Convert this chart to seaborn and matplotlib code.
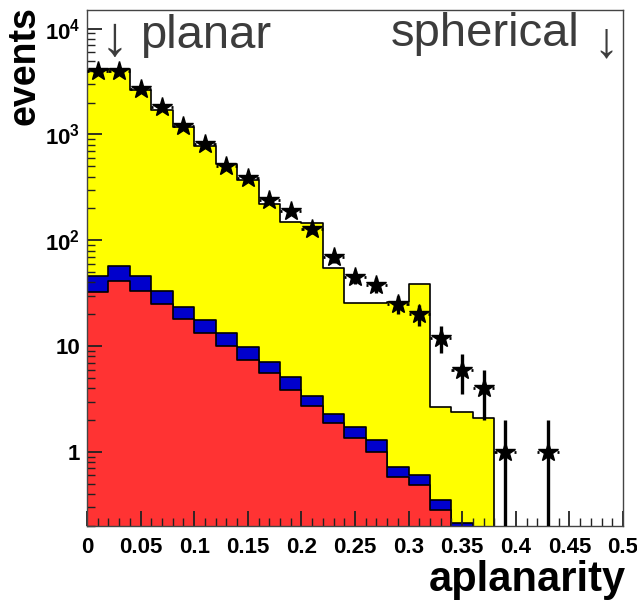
import numpy as np
import pandas as pd
import matplotlib
matplotlib.use("Agg")
import matplotlib.pyplot as plt
from matplotlib.ticker import FixedLocator, LogLocator, NullFormatter, MultipleLocator
import seaborn as sns

# ---------------- data ----------------
bin_edges = [round(0.02 * i, 2) for i in range(26)]          # 0 .. 0.5
# stacked components (events per bin)
red_vals = [32.3, 41.0, 33.0, 24.9, 18.0, 13.3, 10.0, 7.4, 5.6, 3.85,
            2.72, 1.88, 1.36, 1.0, 0.58, 0.49, 0.284, 0.1, 0, 0,
            0, 0, 0, 0, 0]
blue_vals = [13.4, 15.9, 12.7, 8.1, 5.3, 4.3, 3.3, 2.4, 1.5, 1.25,
             0.66, 0.40, 0.36, 0.30, 0.14, 0.12, 0.068, 0.114, 0, 0,
             0, 0, 0, 0, 0]
yellow_vals = [4054, 4143, 2614, 1687, 1142, 769, 508, 358, 212, 143,
               142, 52, 24, 24.3, 25.3, 37.9, 2.31, 2.17, 2.09, 0,
               0, 0, 0, 0, 0]
data_counts = [4000, 4000, 2700, 1800, 1200, 820, 500, 390, 240, 190,
               127, 69, 45, 38, 25, 20, 12, 6, 4, 1,
               0, 1, 0, 0, 0]
x_tick_labels = ["0", "0.05", "0.1", "0.15", "0.2", "0.25", "0.3", "0.35", "0.4", "0.45", "0.5"]
y_tick_labels = [r"$\mathbf{10^{4}}$", r"$\mathbf{10^{3}}$", r"$\mathbf{10^{2}}$", "10", "1"]
y_tick_values = [1e4, 1e3, 1e2, 10, 1]

# ---------------- build table ----------------
edges = np.array(bin_edges)
centers = (edges[:-1] + edges[1:]) / 2
half_w = (edges[1] - edges[0]) / 2
red = np.array(red_vals)
blue_cum = red + np.array(blue_vals)
total = blue_cum + np.array(yellow_vals)
df = pd.DataFrame({"aplanarity": centers, "red": red, "blue": blue_cum, "total": total})

# ---------------- figure ----------------
plt.rcParams["font.family"] = ["Liberation Sans", "DejaVu Sans"]
plt.rcParams["mathtext.fontset"] = "custom"
plt.rcParams["mathtext.bf"] = "Liberation Sans:bold"
plt.rcParams["mathtext.rm"] = "Liberation Sans"

W, H = 637, 604
fig = plt.figure(figsize=(W / 100, H / 100), dpi=100)
ax = fig.add_axes([87 / W, 1 - 526 / H, (623 - 87) / W, (526 - 10) / H])
ax.set_yscale("log")

common = dict(data=df, x="aplanarity", binwidth=0.02, binrange=(bin_edges[0], bin_edges[-1]),
              element="step", fill=True, alpha=1, edgecolor="black", linewidth=1.2, ax=ax)
sns.histplot(weights="total", color="#ffff00", **common)
sns.histplot(weights="blue", color="#0000cc", **common)
sns.histplot(weights="red", color="#ff3333", **common)

# data points: vertical sqrt(N) errors, horizontal bin-width error ends (ROOT-style gap)
cnt = np.array(data_counts, dtype=float)
m = cnt > 0
xc, yc = centers[m], cnt[m]
err = np.sqrt(yc)
lo = np.minimum(err, yc - 1e-3)
ax.errorbar(xc, yc, yerr=[lo, err], fmt="*", ms=14.5,
            color="black", mec="black", elinewidth=2.4, capsize=0, zorder=5)
gap = 0.8 * half_w
ax.hlines(yc, xc - half_w, xc - gap, color="black", lw=2, zorder=5)
ax.hlines(yc, xc + gap, xc + half_w, color="black", lw=2, zorder=5)

ax.set_xlim(0, 0.5)
ax.set_ylim(0.2, 1.5e4)
ax.set_xlabel("")
ax.set_ylabel("")

ax.xaxis.set_major_locator(FixedLocator(np.arange(0, 0.51, 0.05)))
ax.set_xticklabels(x_tick_labels, fontsize=16, fontweight="bold")
ax.xaxis.set_minor_locator(MultipleLocator(0.01))
ax.yaxis.set_major_locator(FixedLocator(y_tick_values))
ax.set_yticklabels(y_tick_labels, fontsize=16, fontweight="bold")
ax.yaxis.set_minor_locator(LogLocator(base=10, subs=np.arange(2, 10)))
ax.yaxis.set_minor_formatter(NullFormatter())

ax.tick_params(which="major", direction="in", length=11, width=1.3, color="#222222",
               top=False, right=False)
ax.tick_params(which="minor", direction="in", length=5.5, width=1.0, color="#222222",
               top=False, right=False)
ax.tick_params(axis="x", which="major", pad=8)
ax.tick_params(axis="y", which="major", pad=5)
for s in ax.spines.values():
    s.set_linewidth(1.0)
    s.set_color("#444444")

def px(x, y):
    return x / W, 1 - y / H

gray = "#3c3c3c"
fig.text(*px(140, 48), "planar", fontsize=34, color=gray, ha="left", va="baseline")
fig.text(*px(114, 55), "\u2193", fontsize=40, color=gray, ha="center", va="baseline")
fig.text(*px(579, 46), "spherical", fontsize=34, color=gray, ha="right", va="baseline")
fig.text(*px(606, 56), "\u2193", fontsize=36, color=gray, ha="center", va="baseline")

fig.text(*px(43, 6), "events", rotation=90, fontsize=27, fontweight="bold",
         ha="right", va="top")
fig.text(*px(626, 600), "aplanarity", fontsize=30, fontweight="bold",
         ha="right", va="bottom")

fig.savefig("out.png", dpi=100)
